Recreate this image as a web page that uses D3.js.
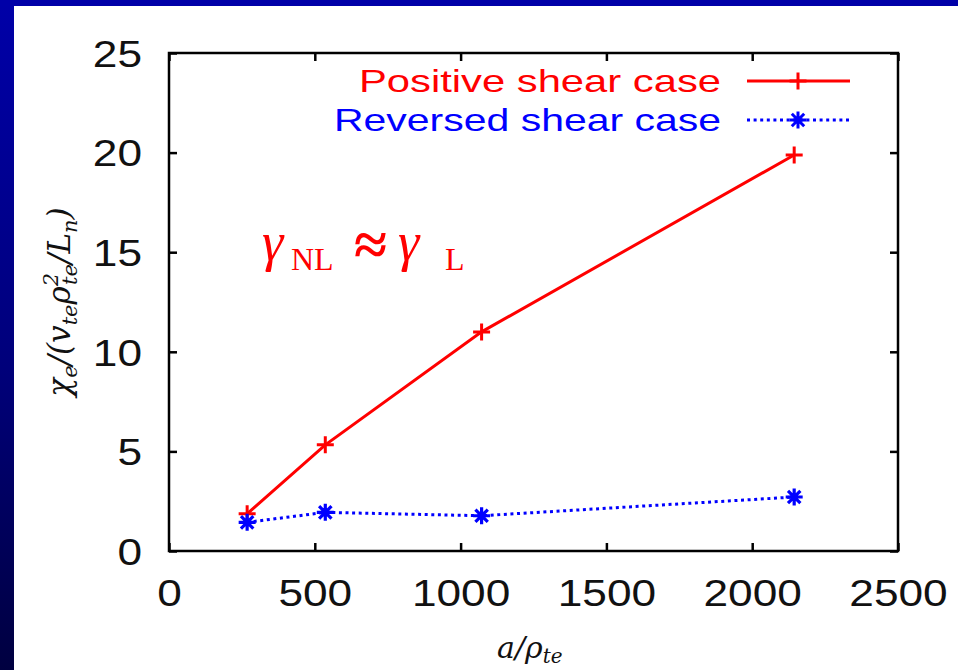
<!DOCTYPE html>
<html>
<head>
<meta charset="utf-8">
<script src="https://cdn.jsdelivr.net/npm/d3@7"></script>
<style>
  html, body { margin: 0; padding: 0; background: #ffffff; }
  svg { display: block; }
</style>
</head>
<body>
<svg id="chart" width="958" height="670"></svg>
<script>
// Normalised electron heat diffusivity versus system size a/rho_te
const aRho = [268, 536, 1072, 2144];
const positiveShear = [1.87, 5.33, 11.0, 19.88];
const reversedShear = [1.44, 1.94, 1.77, 2.71];
const seriesNames = ["Positive shear case", "Reversed shear case"];
const xTicks = [0, 500, 1000, 1500, 2000, 2500];
const yTicks = [0, 5, 10, 15, 20, 25];

const W = 958, H = 670;
const svg = d3.select("#chart");

// Slide backdrop: blue border on the left and top, white page
const defs = svg.append("defs");
const grad = defs.append("linearGradient").attr("id", "sideBand")
  .attr("x1", 0).attr("y1", 0).attr("x2", 0).attr("y2", 1);
grad.append("stop").attr("offset", "0%").attr("stop-color", "#0000a8");
grad.append("stop").attr("offset", "55%").attr("stop-color", "#00007a");
grad.append("stop").attr("offset", "100%").attr("stop-color", "#000040");
svg.append("rect").attr("width", W).attr("height", H).attr("fill", "#ffffff");
svg.append("rect").attr("x", 0).attr("y", 0).attr("width", 14).attr("height", H).attr("fill", "url(#sideBand)");
svg.append("rect").attr("x", 0).attr("y", 0).attr("width", W).attr("height", 6).attr("fill", "#0000a8");

const plot = { left: 169, right: 898, top: 53, bottom: 551 };
const x = d3.scaleLinear().domain([0, 2500]).range([plot.left, plot.right]);
const y = d3.scaleLinear().domain([0, 25]).range([plot.bottom, plot.top]);

const tickFont = "'Liberation Sans', Arial, Helvetica, sans-serif";
const digitW = 24.6;
const fmt = d3.format("d");

function styleAxis(g, labelled) {
  g.select(".domain").remove();
  g.selectAll(".tick line").attr("stroke", "#000").attr("stroke-width", 2.5);
  if (!labelled) {
    g.selectAll(".tick text").remove();
  } else {
    g.selectAll(".tick text")
      .attr("fill", "#111")
      .style("font-family", tickFont)
      .style("font-size", "37px")
      .attr("textLength", d => fmt(d).length * digitW)
      .attr("lengthAdjust", "spacingAndGlyphs");
  }
}

svg.append("g").attr("transform", `translate(0,${plot.bottom})`)
  .call(d3.axisBottom(x).tickValues(xTicks).tickFormat(fmt).tickSizeInner(-8).tickSizeOuter(0).tickPadding(24))
  .call(g => styleAxis(g, true))
  .call(g => g.selectAll(".tick text").attr("dy", "0.71em").attr("y", 29));

svg.append("g").attr("transform", `translate(0,${plot.top})`)
  .call(d3.axisTop(x).tickValues(xTicks).tickSizeInner(-8).tickSizeOuter(0))
  .call(g => styleAxis(g, false));

svg.append("g").attr("transform", `translate(${plot.left},0)`)
  .call(d3.axisLeft(y).tickValues(yTicks).tickFormat(fmt).tickSizeInner(-8).tickSizeOuter(0).tickPadding(27))
  .call(g => styleAxis(g, true))
  .call(g => g.selectAll(".tick text").attr("dy", "0.36em"));

svg.append("g").attr("transform", `translate(${plot.right},0)`)
  .call(d3.axisRight(y).tickValues(yTicks).tickSizeInner(-8).tickSizeOuter(0))
  .call(g => styleAxis(g, false));

// Plot frame
svg.append("rect")
  .attr("x", plot.left).attr("y", plot.top)
  .attr("width", plot.right - plot.left).attr("height", plot.bottom - plot.top)
  .attr("fill", "none").attr("stroke", "#000").attr("stroke-width", 2.5);

const RED = "#ff0000", BLUE = "#0000ff";

// Point symbols: plus for the positive shear case, asterisk for the reversed one
function plusPath(cx, cy) {
  const s = 8.5;
  return `M${cx - s},${cy}H${cx + s}M${cx},${cy - s}V${cy + s}`;
}
function starPath(cx, cy) {
  const s = 8.5, d = 6.2;
  return `M${cx - s},${cy}H${cx + s}M${cx},${cy - s}V${cy + s}` +
         `M${cx - d},${cy - d}L${cx + d},${cy + d}M${cx - d},${cy + d}L${cx + d},${cy - d}`;
}

const line = d3.line().x(d => x(d[0])).y(d => y(d[1]));
const posData = aRho.map((a, i) => [a, positiveShear[i]]);
const revData = aRho.map((a, i) => [a, reversedShear[i]]);

svg.append("path").datum(posData).attr("d", line)
  .attr("fill", "none").attr("stroke", RED).attr("stroke-width", 3);
svg.append("g").selectAll("path").data(posData).join("path")
  .attr("d", d => plusPath(x(d[0]), y(d[1])))
  .attr("stroke", RED).attr("stroke-width", 3).attr("fill", "none");

svg.append("path").datum(revData).attr("d", line)
  .attr("fill", "none").attr("stroke", BLUE).attr("stroke-width", 3)
  .attr("stroke-dasharray", "3,3.6");
svg.append("g").selectAll("path").data(revData).join("path")
  .attr("d", d => starPath(x(d[0]), y(d[1])))
  .attr("stroke", BLUE).attr("stroke-width", 3.2).attr("fill", "none");

// Legend
const legend = [
  { name: seriesNames[0], color: RED, dash: null, sym: plusPath, y: 81, len: 362 },
  { name: seriesNames[1], color: BLUE, dash: "3,3.6", sym: starPath, y: 120, len: 387 }
];
const lg = svg.append("g");
legend.forEach(l => {
  lg.append("text").attr("x", 721).attr("y", l.y + 11)
    .attr("text-anchor", "end").attr("fill", l.color)
    .style("font-family", tickFont).style("font-size", "32px")
    .attr("textLength", l.len).attr("lengthAdjust", "spacingAndGlyphs")
    .text(l.name);
  lg.append("line").attr("x1", 747).attr("x2", 850).attr("y1", l.y).attr("y2", l.y)
    .attr("stroke", l.color).attr("stroke-width", 3)
    .attr("stroke-dasharray", l.dash);
  lg.append("path").attr("d", l.sym(798, l.y))
    .attr("stroke", l.color).attr("stroke-width", 3).attr("fill", "none");
});

// Annotation: nonlinear growth rate approximately equal to the linear one
const ann = svg.append("text")
  .attr("fill", RED).style("font-family", "'Liberation Serif', 'Times New Roman', serif");
ann.append("tspan").attr("x", 262).attr("y", 260).style("font-style", "italic").style("font-size", "54px").text("γ");
ann.append("tspan").attr("x", 291).attr("y", 270).style("font-size", "32px").text("NL");
ann.append("tspan").attr("x", 354).attr("y", 265).style("font-size", "60px").style("font-weight", "bold").text("≈");
ann.append("tspan").attr("x", 398).attr("y", 260).style("font-style", "italic").style("font-size", "54px").text("γ");
ann.append("tspan").attr("x", 445).attr("y", 270).style("font-size", "32px").text("L");

// Axis titles
const mathFont = "'DejaVu Serif', 'Liberation Serif', serif";
const yl = svg.append("text")
  .attr("transform", "translate(70,302) rotate(-90)")
  .attr("text-anchor", "middle").attr("fill", "#111")
  .style("font-family", mathFont).style("font-style", "italic").style("font-size", "31px");
yl.append("tspan").text("χ");
yl.append("tspan").attr("dy", 7).style("font-size", "21px").text("e");
yl.append("tspan").attr("dy", -7).text("/(v");
yl.append("tspan").attr("dy", 7).style("font-size", "21px").text("te");
yl.append("tspan").attr("dy", -7).text("ρ");
yl.append("tspan").attr("dy", -12).style("font-size", "21px").text("2");
yl.append("tspan").attr("dx", -12).attr("dy", 19).style("font-size", "21px").text("te");
yl.append("tspan").attr("dy", -7).text("/L");
yl.append("tspan").attr("dy", 7).style("font-size", "21px").text("n");
yl.append("tspan").attr("dy", -7).text(")");

const xl = svg.append("text").attr("x", 497).attr("y", 658)
  .attr("fill", "#111")
  .style("font-family", mathFont).style("font-style", "italic").style("font-size", "30px");
xl.append("tspan").text("a/ρ");
xl.append("tspan").attr("dy", 5).style("font-size", "20px").text("te");
</script>
</body>
</html>
